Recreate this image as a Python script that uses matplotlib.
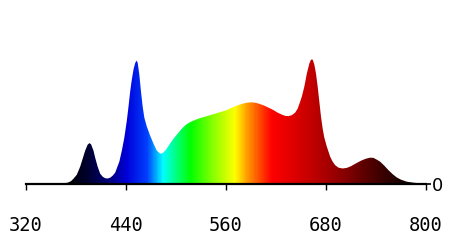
import numpy as np
import matplotlib.pyplot as plt
from matplotlib.colors import LinearSegmentedColormap

# spectrum (nm, height in px, peak = 124)
wavelength = [320, 355, 365, 370, 374, 377, 381, 385, 388, 391, 394, 396, 398,
              401, 403, 406, 409, 412, 415, 418, 421, 424, 427, 432, 435, 438,
              441, 443, 445, 447, 449, 451, 452.5, 454, 456, 458, 460, 462, 465,
              469, 473, 477, 481, 484, 488, 492, 497, 502, 507, 512,
              517, 521, 527, 535, 543, 551, 559, 566, 573, 580, 586, 591, 596,
              601, 606, 611, 617, 622, 627, 631, 635, 639, 643, 646, 649, 651,
              654, 657, 660, 662, 664, 666, 668, 670, 672, 674, 676, 678, 681,
              685, 688, 691, 695, 700, 705, 710, 716, 722, 728, 733, 737, 741,
              745, 750, 755, 760, 765, 770, 777, 785, 792, 800]
intensity = [0, 0, 0.5, 1, 2.5, 5, 9, 17, 25, 33, 39, 40.5, 39.5,
             33, 26, 17, 10, 7, 5.5, 5.2, 6, 8, 11, 22, 33, 46,
             63, 77, 92, 104, 114, 120.5, 123, 121, 109, 92, 77, 66, 57,
             48, 40, 33, 30, 30.5, 34, 39, 45, 50, 55, 59,
             61.5, 63, 65, 67, 69, 71, 73, 75.5, 78, 80, 81, 81.3, 80.8,
             79.5, 78, 76, 73.5, 71, 69, 67.8, 67.5, 68.5, 71, 75, 82, 87,
             97, 110, 120, 124, 124, 119, 110, 97, 82, 67, 55, 46, 37,
             27, 22, 18.5, 16, 15.2, 15.8, 17.5, 20.3, 23, 25, 26, 25.8, 24,
             22, 18, 13.5, 9.5, 6.2, 4, 2, 1, 0.5, 0]

ticks = [320, 440, 560, 680, 800]

# colour stops along the spectrum
color_nm = [320, 370, 395, 420, 440, 465, 484, 500, 517, 545, 571, 586, 615,
            660, 700, 740, 780, 800]
color_rgb = [(0, 0, 0), (0, 0, 0), (0, 0, 0.2), (0, 0, 0.5), (0, 0, 0.85),
             (0, 0.25, 1), (0, 1, 1), (0, 1, 0.5), (0, 1, 0), (0.55, 1, 0),
             (1, 1, 0), (1, 0.6, 0), (1, 0, 0), (0.78, 0, 0), (0.55, 0, 0),
             (0.28, 0, 0), (0.05, 0, 0), (0, 0, 0)]

x = np.array(wavelength, float)
y = np.array(intensity, float) / 124.0

stops = [(n - 320) / 480 for n in color_nm]
cmap = LinearSegmentedColormap.from_list("spec", list(zip(stops, color_rgb)))

fig = plt.figure(figsize=(4.5, 2.44), dpi=100)
ax = fig.add_axes([26 / 450, (244 - 183.7) / 244, 400 / 450, 183.7 / 244])
ax.set_xlim(320, 800)
ax.set_ylim(0, 1.48)

poly = ax.fill_between(x, 0, y, color="none", lw=0)
grad = np.linspace(0, 1, 600).reshape(1, -1)
im = ax.imshow(grad, cmap=cmap, aspect="auto", extent=[320, 800, 0, 1.48],
               interpolation="bilinear", zorder=1)
im.set_clip_path(poly.get_paths()[0], transform=ax.transData)

for s in ["top", "left", "right"]:
    ax.spines[s].set_visible(False)
ax.spines["bottom"].set_linewidth(1.6)
ax.spines["bottom"].set_zorder(3)

ax.set_xticks(ticks)
ax.set_xticklabels([str(t) for t in ticks], family="DejaVu Sans Mono", fontsize=13.5)
ax.tick_params(axis="x", direction="out", length=4.5, width=1, pad=19)
ax.set_xticks([320, 800], minor=True)
ax.tick_params(axis="x", which="minor", direction="inout", length=10.5, width=1)

ax.set_yticks([])
ry = ax.twinx()
ry.set_ylim(0, 1.48)
for s in ["top", "left", "right", "bottom"]:
    ry.spines[s].set_visible(False)
ry.set_yticks([0])
ry.set_yticklabels(["0"], fontsize=13)
ry.tick_params(axis="y", direction="out", length=3.5, width=1.2, pad=1)

fig.savefig("out.png", dpi=100)
